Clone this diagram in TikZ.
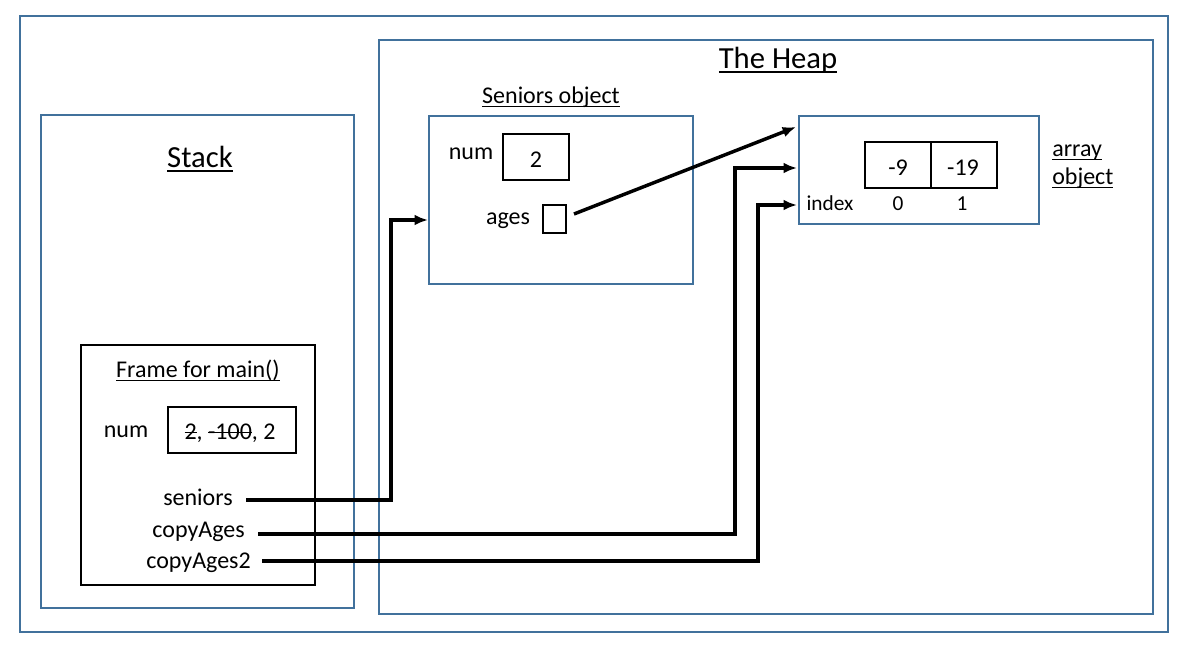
\documentclass[tikz,border=0pt]{standalone}
\usepackage{fontspec}
\setmainfont{Carlito}
\usetikzlibrary{arrows.meta,fit}
\definecolor{boxblue}{RGB}{65,113,156}
% underline at a fixed depth, independent of descenders
\newcommand\uln[1]{\leavevmode\setbox0\hbox{#1}\rlap{\rule[-0.17em]{\wd0}{0.065em}}\box0}
% struck-out value
\newcommand\strk[1]{\leavevmode\setbox0\hbox{#1}\rlap{\rule[0.24em]{\wd0}{0.065em}}\box0}
\begin{document}
\begin{tikzpicture}[x=0.75pt,y=-0.75pt,
  bluebox/.style={draw=boxblue,line width=1.6pt,inner sep=0pt},
  cell/.style={draw=black,line width=1.7pt,inner sep=0pt},
  lbl/.style={inner sep=0pt,anchor=base,font=\fontsize{18}{20}\selectfont},
  small/.style={inner sep=0pt,anchor=base,font=\fontsize{16}{18}\selectfont},
  title/.style={inner sep=0pt,anchor=base,font=\fontsize{23}{26}\selectfont},
  ptr/.style={draw=black,line width=2.6pt,-{Latex[length=10pt,width=8pt]}}]
\useasboundingbox[fill=white] (0,0) rectangle (1198,657);

% memory regions
\node[bluebox,fit={(20,16) (1168,632)}] (memory) {};
\node[bluebox,fit={(41,115) (354,608)}] (stack) {};
\node[bluebox,fit={(379,40) (1153,614)}] (heap) {};
\node[title] (heaptitle) at (778,68) {\uln{The Heap}};
\node[title] (stacktitle) at (200,167) {\uln{Stack}};

% stack frame of main()
\node[cell,fit={(81,345) (315,585)}] (frame) {};
\node[lbl] (frametitle) at (198,377) {\uln{Frame for main()}};
\node[lbl] (numlbl) at (126,437) {num};
\node[cell,fit={(168,407) (296,453)}] (numbox) {};
\node[lbl] (numval) at (230,439) {\strk{2}, \strk{-100}, 2};
\node[lbl,anchor=base east] (seniors) at (233,505) {seniors};
\node[lbl,anchor=base east] (copyages) at (245,537) {copyAges};
\node[lbl,anchor=base east] (copyages2) at (251,568) {copyAges2};

% Seniors object
\node[lbl] (sentitle) at (551,103) {\uln{Seniors object}};
\node[bluebox,fit={(429,116) (693,284)}] (senobj) {};
\node[lbl] (snumlbl) at (471,159) {num};
\node[cell,fit={(503,134) (569,180)}] (snumbox) {};
\node[lbl] (snumval) at (536,167) {2};
\node[lbl] (ageslbl) at (508,224) {ages};
\node[cell,fit={(543,205) (566,233)}] (agesbox) {};

% array object
\node[bluebox,fit={(799,116) (1039,224)}] (arrobj) {};
\node[cell,fit={(865,142) (931,188)}] (cell0) {};
\node[cell,fit={(931,142) (997,188)}] (cell1) {};
\node[lbl] (val0) at (898,175) {-9};
\node[lbl] (val1) at (963,175) {-19};
\node[small] (idxlbl) at (830,210) {index};
\node[small] (idx0) at (898,210) {0};
\node[small] (idx1) at (962,210) {1};
\node[lbl,anchor=base west] (arrlbl1) at (1052,156) {\uln{array}};
\node[lbl,anchor=base west] (arrlbl2) at (1052,184) {\uln{object}};

% reference arrows
\coordinate (s0) at (246,500);
\coordinate (s1) at (391,220);
\coordinate (s2) at (428,220);
\draw[ptr] (s0) -| (s1) -- (s2);

\coordinate (c0) at (258,534);
\coordinate (c1) at (735,168);
\coordinate (c2) at (797,168);
\draw[ptr] (c0) -| (c1) -- (c2);

\coordinate (d0) at (262,561);
\coordinate (d1) at (758,205);
\coordinate (d2) at (797,205);
\draw[ptr] (d0) -| (d1) -- (d2);

\coordinate (a0) at (574,214);
\coordinate (a1) at (796,127);
\draw[ptr] (a0) -- (a1);
\end{tikzpicture}
\end{document}
